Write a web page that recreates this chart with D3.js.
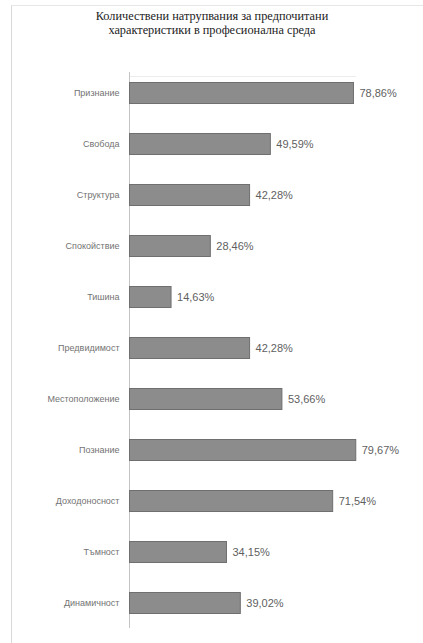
<!DOCTYPE html>
<html>
<head>
<meta charset="utf-8">
<script src="https://cdn.jsdelivr.net/npm/d3@7/dist/d3.min.js"></script>
<style>
  html, body { margin: 0; padding: 0; background: #fff; }
  svg { display: block; }
</style>
</head>
<body>
<div id="chart"></div>
<script>
// Preferred characteristics in a professional environment (share of responses, %)
const categories = [
  "Признание", "Свобода", "Структура", "Спокойствие", "Тишина",
  "Предвидимост", "Местоположение", "Познание", "Доходоносност",
  "Тъмност", "Динамичност"
];
const values = [78.86, 49.59, 42.28, 28.46, 14.63, 42.28, 53.66, 79.67, 71.54, 34.15, 39.02];
const titleLines = [
  "Количествени натрупвания за предпочитани",
  "характеристики в професионална среда"
];

const W = 423, H = 643;
const svg = d3.select("#chart").append("svg").attr("width", W).attr("height", H);

// outer frame of the chart area
svg.append("line").attr("x1", 11.5).attr("x2", 11.5).attr("y1", 5).attr("y2", H)
  .attr("stroke", "#d9d9d9").attr("stroke-width", 1);
svg.append("line").attr("x1", 11).attr("x2", W).attr("y1", 5.5).attr("y2", 5.5)
  .attr("stroke", "#e6e6e6").attr("stroke-width", 1);

// title
svg.append("g").selectAll("text").data(titleLines).join("text")
  .attr("x", 212).attr("y", (d, i) => 20 + i * 14)
  .attr("text-anchor", "middle")
  .attr("font-family", "'Liberation Serif', 'DejaVu Serif', serif")
  .attr("font-size", 12.3)
  .attr("fill", "#222")
  .text(d => d);

const x = d3.scaleLinear().domain([0, 100]).range([129.5, 413.5]);
const y = d3.scaleBand().domain(categories).range([67.5, 628.5])
  .paddingInner(0.588).paddingOuter(0.294);

// faint plot-area top edge
svg.append("line").attr("x1", x(0)).attr("x2", 356).attr("y1", 76.5).attr("y2", 76.5)
  .attr("stroke", "#ececec");

// category axis
const yAxis = svg.append("g").attr("transform", `translate(${x(0)},0)`)
  .call(d3.axisLeft(y).tickSize(0).tickPadding(10));
yAxis.select(".domain").attr("stroke", "#c4c4c4").attr("d", "M0,72V628");
yAxis.selectAll("text")
  .attr("font-family", "'Liberation Sans', Arial, sans-serif")
  .attr("font-size", 9)
  .attr("fill", "#737373");

// bars
svg.append("g").selectAll("rect").data(values).join("rect")
  .attr("x", x(0))
  .attr("y", (d, i) => y(categories[i]))
  .attr("width", d => x(d) - x(0))
  .attr("height", y.bandwidth())
  .attr("fill", "#8c8c8c")
  .attr("stroke", "#6f6f6f")
  .attr("stroke-width", 1);

// value labels
const fmt = d => d3.format(".2f")(d).replace(".", ",") + "%";
svg.append("g").selectAll("text").data(values).join("text")
  .attr("x", d => x(d) + 6)
  .attr("y", (d, i) => y(categories[i]) + y.bandwidth() / 2)
  .attr("dy", "0.35em")
  .attr("font-family", "'Liberation Sans', Arial, sans-serif")
  .attr("font-size", 11)
  .attr("fill", "#5f5f5f")
  .text(fmt);
</script>
</body>
</html>
